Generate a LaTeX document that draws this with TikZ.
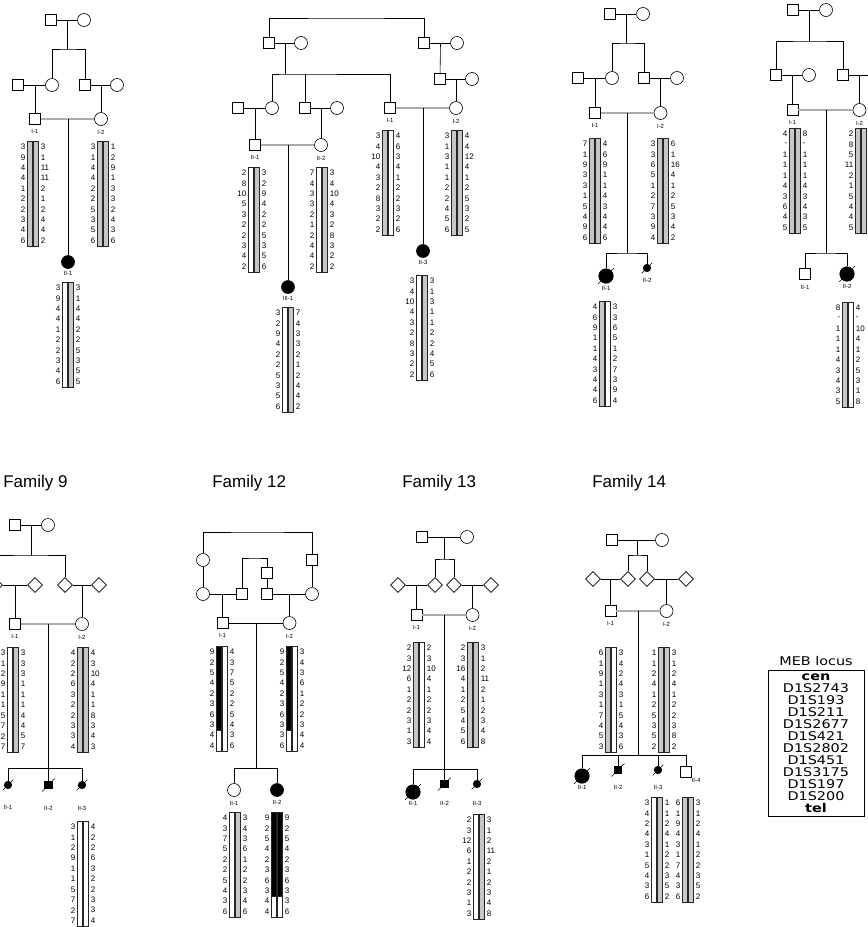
\documentclass[tikz,border=0pt]{standalone}
\usepackage{fontspec}
\setmainfont{Liberation Sans}
\newfontfamily\legendfont[FakeStretch=1.2]{DejaVu Sans}
\usetikzlibrary{shapes.geometric, positioning, calc}

\colorlet{chromgray}{gray!45}
\newcommand{\hapstep}{10.4}
\def\blkfill{blk}
% one chromosome bar: left x, first row y, fill (a colour, or blk)
\newcommand{\chrom}[3]{%
  \def\chromfill{#3}%
  \ifx\chromfill\blkfill
    \draw[chrom, fill=white] (#1,#2-6) rectangle ++(5,105.6);
    \draw[chrom, fill=black] (#1,#2-6) rectangle ++(5,84);
  \else
    \draw[chrom, fill=#3] (#1,#2-6) rectangle ++(5,105.6);
  \fi}
% haplotype: name, centre x, first row y, left alleles, right alleles, left fill, right fill
\newcommand{\hap}[7]{%
  \chrom{#2-5.5}{#3}{#6}
  \chrom{#2+0.5}{#3}{#7}
  \foreach \al [count=\i] in {#4}
    \node[allele, anchor=east] (#1l\i) at (#2-7.5, #3+\hapstep*\i-\hapstep) {\al};
  \foreach \al [count=\i] in {#5}
    \node[allele, anchor=west] (#1r\i) at (#2+7.5, #3+\hapstep*\i-\hapstep) {\al};
}
\newcommand{\deceased}[1]{\draw[slash] ($(#1.south west)+(-2.5,2.5)$) -- ($(#1.north east)+(2.5,-2.5)$);}

\begin{document}
\begin{tikzpicture}[x=1pt, y=-1pt, line width=0.6pt,
    male/.style={rectangle, draw, minimum size=11pt, inner sep=0pt, fill=white},
    female/.style={circle, draw, minimum size=13pt, inner sep=0pt, fill=white},
    unsexed/.style={diamond, draw, minimum size=15pt, inner sep=0pt, fill=white},
    affected/.style={fill=black},
    infant/.style={minimum size=7.5pt},
    big/.style={minimum size=14.5pt},
    lbl/.style={font=\fontsize{6}{6}\selectfont, inner sep=0.5pt, label distance=3.5pt},
    allele/.style={font=\fontsize{8}{8}\selectfont, inner sep=0pt},
    chrom/.style={draw=black!85, line width=0.5pt},
    consang/.style={draw=black, double=gray!65, double distance=1.1pt, line width=0.9pt},
    slash/.style={line width=0.5pt},
    famtitle/.style={font=\fontsize{17}{17}\selectfont, anchor=west, inner sep=0pt},
  ]
\useasboundingbox (0,0) rectangle (868,927);
\fill[white] (0,0) rectangle (868,927);
\clip (0,0) rectangle (868,927);

% Family 1
\node[male] (f1gf) at (51,20) {};
\node[female] (f1gm) at (84,20) {};
\node[male] (f1a) at (18,85) {};
\node[female] (f1b) at (52,85) {};
\node[male] (f1c) at (85,85) {};
\node[female] (f1d) at (117,85) {};
\node[male, label={[lbl]below:I-1}] (f1i1) at (35,119) {};
\node[female, label={[lbl]below:I-2}] (f1i2) at (101,119) {};
\node[female, affected, label={[lbl, label distance=1.5pt]below:II-1}] (f1ii1) at (68,262) {};
\coordinate (f1sib) at (67.5,49);
\draw (f1gf) -- (f1gm);
\draw ($(f1gf)!.5!(f1gm)$) -- (f1sib);
\draw (f1b) |- (f1sib) -| (f1c);
\draw (f1a) -- (f1b);
\draw ($(f1a)!.5!(f1b)$) -- (f1i1);
\draw (f1c) -- (f1d);
\draw ($(f1c)!.5!(f1d)$) -- (f1i2);
\draw[consang] (f1i1) -- (f1i2);
\draw ($(f1i1)!.5!(f1i2)$) -- (f1ii1);
\hap{f1h1}{33}{147}{3,9,4,4,1,2,2,3,4,6}{3,1,11,11,2,1,2,4,4,2}{chromgray}{chromgray}
\hap{f1h2}{103}{147}{3,1,4,4,2,2,5,3,5,6}{1,2,9,1,3,3,2,4,3,6}{chromgray}{chromgray}
\hap{f1h3}{68}{288}{3,9,4,4,1,2,2,3,4,6}{3,1,4,4,2,2,5,3,5,5}{white}{chromgray}

% Family 2
\node[male] (f2a) at (269,43) {};
\node[female] (f2b) at (301,43) {};
\node[male] (f2c) at (424,43) {};
\node[female] (f2d) at (457,43) {};
\node[female] (f2e) at (272,108) {};
\node[male] (f2f) at (305,108) {};
\node[male] (f2g) at (440,79) {};
\node[female] (f2h) at (472,79) {};
\node[male] (f2j) at (238,108) {};
\node[female] (f2k) at (337,108) {};
\node[male, label={[lbl]below:I-1}] (f2i1) at (390,108) {};
\node[female, label={[lbl]below:I-2}] (f2i2) at (456,108) {};
\node[male, label={[lbl]below:II-1}] (f2ii1) at (255,145) {};
\node[female, label={[lbl]below:II-2}] (f2ii2) at (321,145) {};
\node[female, affected, label={[lbl, label distance=1.5pt]below:II-3}] (f2ii3) at (423,251) {};
\node[female, affected, label={[lbl, label distance=1.5pt]below:III-1}] (f2iii1) at (288,287) {};
\coordinate (f2top) at (346,18);
\coordinate (f2sib) at (285,74);
\draw (f2a) |- (f2top) -| (f2c);
\draw (f2a) -- (f2b);
\draw ($(f2a)!.5!(f2b)$) -- (f2sib);
\draw (f2e) |- (f2sib) -| (f2i1);
\draw (f2f) -- (f2f |- f2sib);
\draw (f2c) -- (f2d);
\draw ($(f2c)!.5!(f2d)$) -- (f2g);
\draw (f2g) -- (f2h);
\draw ($(f2g)!.5!(f2h)$) -- (f2i2);
\draw (f2j) -- (f2e);
\draw ($(f2j)!.5!(f2e)$) -- (f2ii1);
\draw (f2f) -- (f2k);
\draw ($(f2f)!.5!(f2k)$) -- (f2ii2);
\draw[consang] (f2i1) -- (f2i2);
\draw ($(f2i1)!.5!(f2i2)$) -- (f2ii3);
\draw[consang] (f2ii1) -- (f2ii2);
\draw ($(f2ii1)!.5!(f2ii2)$) -- (f2iii1);
\hap{f2h1}{388}{136}{3,4,10,4,3,2,8,3,2,2}{4,6,3,4,1,2,2,3,2,6}{chromgray}{white}
\hap{f2h2}{457}{136}{3,1,3,1,1,2,2,4,5,6}{4,4,12,4,1,2,5,3,2,5}{chromgray}{chromgray}
\hap{f2h3}{254}{173}{2,8,10,5,3,2,2,3,4,2}{3,2,9,4,2,2,5,3,5,6}{white}{chromgray}
\hap{f2h4}{322}{173}{7,4,3,3,2,1,2,4,4,2}{3,4,10,4,3,2,8,3,2,2}{white}{chromgray}
\hap{f2h5}{422}{281}{3,4,10,4,3,2,8,3,2,2}{3,1,3,1,1,2,2,4,5,6}{white}{chromgray}
\hap{f2h6}{288}{313}{3,2,9,4,2,2,5,3,5,6}{7,4,3,3,2,1,2,4,4,2}{white}{chromgray}

% Family 3
\node[male] (f3gf) at (610,14) {};
\node[female] (f3gm) at (643,14) {};
\node[male] (f3a) at (578,78) {};
\node[female] (f3b) at (612,78) {};
\node[male] (f3c) at (644,78) {};
\node[female] (f3d) at (677,78) {};
\node[male, label={[lbl]below:I-1}] (f3i1) at (595,113) {};
\node[female, label={[lbl]below:I-2}] (f3i2) at (660.5,113) {};
\node[female, affected, big, label={[lbl, label distance=2pt]below:II-1}] (f3ii1) at (606,276) {};
\node[female, affected, infant, label={[lbl, label distance=5pt]below:II-2}] (f3ii2) at (647,268) {};
\coordinate (f3sib) at (626.5,43);
\coordinate (f3sib2) at (627.75,253);
\draw (f3gf) -- (f3gm);
\draw ($(f3gf)!.5!(f3gm)$) -- (f3sib);
\draw (f3b) |- (f3sib) -| (f3c);
\draw (f3a) -- (f3b);
\draw ($(f3a)!.5!(f3b)$) -- (f3i1);
\draw (f3c) -- (f3d);
\draw ($(f3c)!.5!(f3d)$) -- (f3i2);
\draw[consang] (f3i1) -- (f3i2);
\draw ($(f3i1)!.5!(f3i2)$) -- (f3sib2);
\draw (f3ii1) |- (f3sib2) -| (f3ii2);
\deceased{f3ii1}
\deceased{f3ii2}
\hap{f3h1}{595}{144}{7,1,9,3,3,1,5,4,9,6}{4,6,9,1,1,4,3,4,4,6}{chromgray}{chromgray}
\hap{f3h2}{663}{144}{3,3,6,5,1,2,7,3,9,4}{6,1,16,4,1,2,5,3,4,2}{chromgray}{chromgray}
\hap{f3h3}{605}{307}{4,6,9,1,1,4,3,4,4,6}{3,3,6,5,1,2,7,3,9,4}{chromgray}{white}

% Family 4
\node[male] (f4gf) at (793,10) {};
\node[female] (f4gm) at (826,10) {};
\node[male] (f4a) at (776,75) {};
\node[female] (f4b) at (809,75) {};
\node[male] (f4c) at (843,75) {};
\coordinate (f4d) at (876,75);
\node[male, label={[lbl]below:I-1}] (f4i1) at (792.5,110) {};
\node[female, label={[lbl]below:I-2}] (f4i2) at (859.5,110) {};
\node[male, label={[lbl, label distance=5pt]below:II-1}] (f4ii1) at (805,274) {};
\node[female, affected, big, label={[lbl, label distance=2pt]below:II-2}] (f4ii2) at (847,274) {};
\coordinate (f4sib) at (809.5,41);
\coordinate (f4sib2) at (826,253);
\draw (f4gf) -- (f4gm);
\draw ($(f4gf)!.5!(f4gm)$) -- (f4sib);
\draw (f4a) |- (f4sib) -| (f4c);
\draw (f4a) -- (f4b);
\draw ($(f4a)!.5!(f4b)$) -- (f4i1);
\draw (f4c) -- (f4d);
\draw ($(f4c)!.5!(f4d)$) -- (f4i2);
\draw[consang] (f4i1) -- (f4i2);
\draw ($(f4i1)!.5!(f4i2)$) -- (f4sib2);
\draw (f4ii1) |- (f4sib2) -| (f4ii2);
\deceased{f4ii2}
\hap{f4h1}{795}{134}{4,-,1,1,1,4,3,6,4,5}{8,-,1,1,1,4,3,4,3,5}{chromgray}{chromgray}
\hap{f4h2}{861}{134}{2,8,5,11,2,1,5,4,4,5}{}{chromgray}{chromgray}
\hap{f4h3}{848}{308}{8,-,1,1,1,4,3,4,3,5}{4,-,10,4,1,2,5,3,1,8}{chromgray}{white}

% Family 9
\node[famtitle] (t9) at (3,483) {Family 9};
\node[male] (f9gf) at (15,525) {};
\node[female] (f9gm) at (48,525) {};
\node[unsexed] (f9a) at (-5,585) {};
\node[unsexed] (f9b) at (35,585) {};
\node[unsexed] (f9c) at (65,585) {};
\node[unsexed] (f9d) at (99,585) {};
\node[male, label={[lbl]below:I-1}] (f9i1) at (15,624) {};
\node[female, label={[lbl]below:I-2}] (f9i2) at (82,624) {};
\node[female, affected, infant, label={[lbl, label distance=16pt]below:II-1}] (f9ii1) at (8,785) {};
\node[male, affected, infant, label={[lbl, label distance=16pt]below:II-2}] (f9ii2) at (48.5,785) {};
\node[female, affected, infant, label={[lbl, label distance=16pt]below:II-3}] (f9ii3) at (82,785) {};
\coordinate (f9sib) at (31.5,555);
\coordinate (f9sib2) at (48.5,768);
\draw (f9gf) -- (f9gm);
\draw ($(f9gf)!.5!(f9gm)$) -- (f9sib);
\draw (f9a) |- (f9sib) -| (f9c);
\draw (f9a) -- (f9b);
\draw ($(f9a)!.5!(f9b)$) -- (f9i1);
\draw (f9c) -- (f9d);
\draw ($(f9c)!.5!(f9d)$) -- (f9i2);
\draw[consang] (f9i1) -- (f9i2);
\draw ($(f9i1)!.5!(f9i2)$) -- (f9sib2);
\draw (f9ii1) |- (f9sib2) -| (f9ii3);
\draw (f9ii2) -- (f9sib2);
\deceased{f9ii1}
\deceased{f9ii2}
\deceased{f9ii3}
\hap{f9h1}{13}{653}{3,1,2,9,1,1,5,7,2,7}{3,3,3,1,1,1,4,4,5,7}{white}{chromgray}
\hap{f9h2}{83}{653}{4,2,2,6,3,2,2,3,3,4}{4,3,10,4,1,1,8,3,4,3}{chromgray}{chromgray}
\hap{f9h3}{83}{827}{3,1,2,9,1,1,5,7,2,7}{4,2,2,6,3,2,2,3,3,4}{white}{white}

% Family 12
\node[famtitle] (t12) at (212,483) {Family 12};
\node[female] (f12a) at (203,560) {};
\node[male] (f12b) at (312,560) {};
\node[female] (f12c) at (203,594) {};
\node[male] (f12d) at (242,594) {};
\node[male] (f12e) at (267,573) {};
\node[male] (f12g) at (267,594) {};
\node[female] (f12f) at (312,594) {};
\node[male, label={[lbl]below:I-1}] (f12i1) at (222.5,623) {};
\node[female, label={[lbl]below:I-2}] (f12i2) at (289.5,623) {};
\node[female, label={[lbl]below:II-1}] (f12ii1) at (234,790) {};
\node[female, affected, label={[lbl, label distance=3pt]below:II-2}] (f12ii2) at (277,790) {};
\coordinate (f12top) at (257.5,532);
\coordinate (f12itop) at (254.5,558);
\coordinate (f12sib) at (256,768);
\draw (f12a) |- (f12top) -| (f12b);
\draw (f12a) -- (f12c);
\draw (f12b) -- (f12f);
\draw (f12d) |- (f12itop) -| (f12e);
\draw (f12e) -- (f12g);
\draw (f12c) -- (f12d);
\draw ($(f12c)!.5!(f12d)$) -- (f12i1);
\draw (f12g) -- (f12f);
\draw ($(f12g)!.5!(f12f)$) -- (f12i2);
\draw[line width=1pt] (f12i1) -- (f12i2);
\draw ($(f12i1)!.5!(f12i2)$) -- (f12sib);
\draw (f12ii1) |- (f12sib) -| (f12ii2);
\hap{f12h1}{222}{652}{9,2,5,4,2,3,6,3,4,4}{4,3,7,5,2,2,5,4,3,6}{blk}{white}
\hap{f12h2}{292}{652}{9,2,5,4,2,3,6,3,3,6}{3,4,3,6,1,2,2,3,4,4}{blk}{white}
\hap{f12h3}{235}{818}{4,3,7,5,2,2,5,4,3,6}{3,4,3,6,1,2,2,3,4,6}{white}{chromgray}
\hap{f12h4}{277}{818}{9,2,5,4,2,3,6,3,4,4}{9,2,5,4,2,3,6,3,3,6}{blk}{blk}

% Family 13
\node[famtitle] (t13) at (402,483) {Family 13};
\node[male] (f13gf) at (422,537) {};
\node[female] (f13gm) at (467,537) {};
\node[unsexed] (f13a) at (398,585) {};
\node[unsexed] (f13b) at (435,585) {};
\node[unsexed] (f13c) at (454,585) {};
\node[unsexed] (f13d) at (491,585) {};
\node[male, label={[lbl]below:I-1}] (f13i1) at (416.5,615) {};
\node[female, label={[lbl]below:I-2}] (f13i2) at (472.5,615) {};
\node[female, affected, big, label={[lbl, label distance=1.5pt]below:II-1}] (f13ii1) at (413,792) {};
\node[male, affected, infant, label={[lbl, label distance=12pt]below:II-2}] (f13ii2) at (444.5,784) {};
\node[female, affected, infant, label={[lbl, label distance=12pt]below:II-3}] (f13ii3) at (477,784) {};
\coordinate (f13sib) at (444.5,559);
\coordinate (f13sib2) at (444.5,769);
\draw (f13gf) -- (f13gm);
\draw ($(f13gf)!.5!(f13gm)$) -- (f13sib);
\draw (f13b) |- (f13sib) -| (f13c);
\draw (f13a) -- (f13b);
\draw ($(f13a)!.5!(f13b)$) -- (f13i1);
\draw (f13c) -- (f13d);
\draw ($(f13c)!.5!(f13d)$) -- (f13i2);
\draw[consang] (f13i1) -- (f13i2);
\draw ($(f13i1)!.5!(f13i2)$) -- (f13sib2);
\draw (f13ii1) |- (f13sib2) -| (f13ii3);
\draw (f13ii2) -- (f13sib2);
\deceased{f13ii1}
\deceased{f13ii2}
\deceased{f13ii3}
\hap{f13h1}{419}{648}{2,3,12,6,1,2,2,3,1,3}{2,3,10,4,1,2,2,3,4,4}{chromgray}{white}
\hap{f13h2}{473}{648}{2,3,16,4,1,2,5,4,5,6}{3,1,2,11,2,1,2,3,4,8}{chromgray}{chromgray}
\hap{f13h3}{479}{820}{2,3,12,6,1,2,2,3,1,3}{3,1,2,11,2,1,2,3,4,8}{white}{chromgray}

% Family 14
\node[famtitle] (t14) at (592,483) {Family 14};
\node[male] (f14gf) at (612,540) {};
\node[female] (f14gm) at (662,540) {};
\node[unsexed] (f14a) at (593,579) {};
\node[unsexed] (f14b) at (628,579) {};
\node[unsexed] (f14c) at (647,579) {};
\node[unsexed] (f14d) at (686,579) {};
\node[male, label={[lbl]below:I-1}] (f14i1) at (610.5,611) {};
\node[female, label={[lbl]below:I-2}] (f14i2) at (666.5,611) {};
\node[female, affected, big, label={[lbl, label distance=1.5pt]below:II-1}] (f14ii1) at (582,776) {};
\node[male, affected, infant, label={[lbl, label distance=10pt]below:II-2}] (f14ii2) at (618,770) {};
\node[female, affected, infant, label={[lbl, label distance=10pt]below:II-3}] (f14ii3) at (658,770) {};
\node[male, label={[lbl, label distance=0pt]-50:II-4}] (f14ii4) at (686,772) {};
\coordinate (f14sib) at (637,555);
\coordinate (f14sib2) at (638.5,755);
\draw (f14gf) -- (f14gm);
\draw ($(f14gf)!.5!(f14gm)$) -- (f14sib);
\draw (f14b) |- (f14sib) -| (f14c);
\draw (f14a) -- (f14b);
\draw ($(f14a)!.5!(f14b)$) -- (f14i1);
\draw (f14c) -- (f14d);
\draw ($(f14c)!.5!(f14d)$) -- (f14i2);
\draw[consang] (f14i1) -- (f14i2);
\draw ($(f14i1)!.5!(f14i2)$) -- (f14sib2);
\draw (f14ii1) |- (f14sib2) -| (f14ii4);
\draw (f14ii2) -- (f14ii2 |- f14sib2);
\draw (f14ii3) -- (f14ii3 |- f14sib2);
\deceased{f14ii1}
\deceased{f14ii2}
\deceased{f14ii3}
\hap{f14h1}{611}{653}{6,1,9,1,3,1,7,4,5,3}{3,4,2,4,3,1,5,4,3,6}{chromgray}{white}
\hap{f14h2}{664}{653}{1,1,2,4,1,2,5,3,5,2}{3,1,2,4,1,2,2,3,8,2}{chromgray}{chromgray}
\hap{f14h3}{657}{803}{3,4,2,4,3,1,5,4,3,6}{1,1,2,4,1,2,2,3,5,2}{white}{chromgray}
\hap{f14h4}{688}{803}{6,1,9,4,3,1,7,4,3,6}{3,1,2,4,1,2,2,3,5,2}{chromgray}{chromgray}

% marker order
\node[draw, line width=0.6pt, align=center, minimum width=96pt, inner sep=3.5pt,
      font=\legendfont\fontsize{12}{12}\selectfont] (meb) at (816,743)
  {\textbf{cen}\\D1S2743\\D1S193\\D1S211\\D1S2677\\D1S421\\D1S2802\\D1S451\\D1S3175\\D1S197\\D1S200\\\textbf{tel}};
\node[font=\legendfont\fontsize{12}{12}\selectfont, above=4pt of meb, inner sep=0pt] (mebtitle) {MEB locus};
\end{tikzpicture}
\end{document}
